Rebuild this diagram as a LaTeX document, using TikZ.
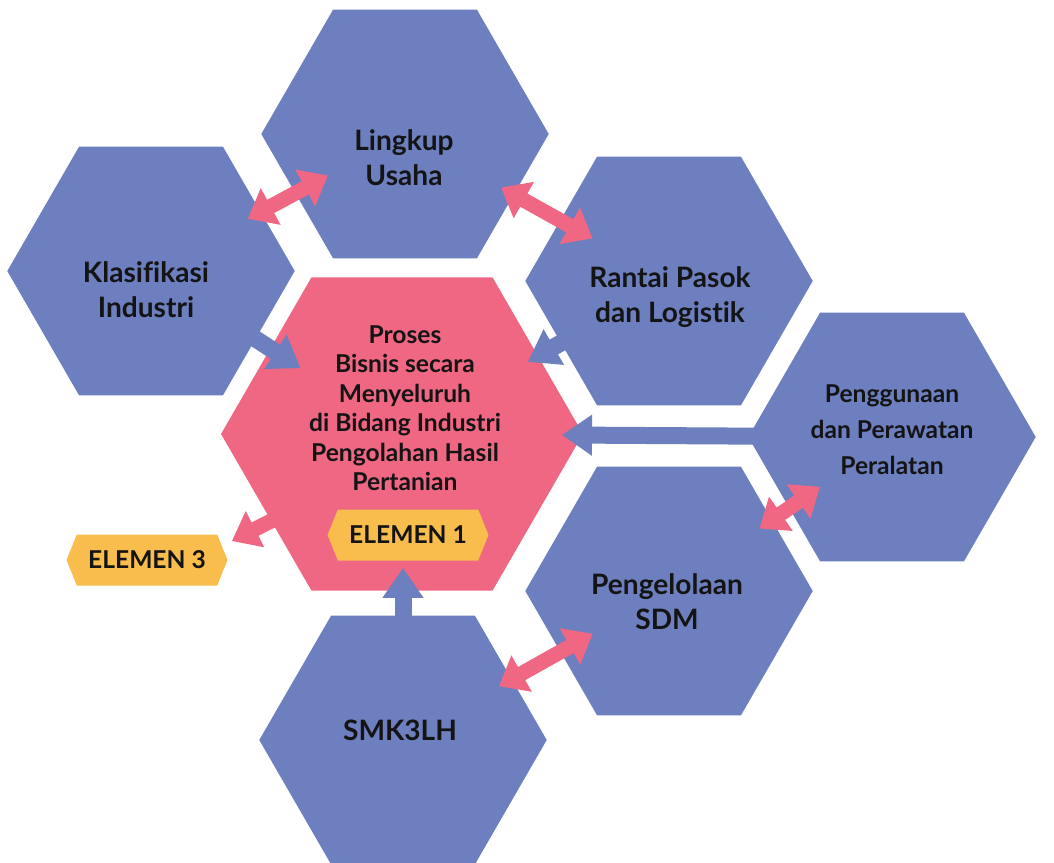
\documentclass[tikz,border=0pt]{standalone}
\usepackage{fontspec}
\setmainfont{Lato}[Ligatures=NoCommon]
\usetikzlibrary{arrows.meta, shapes.geometric, shapes.symbols}
\definecolor{hexblue}{HTML}{6D7FBF}
\definecolor{hexpink}{HTML}{EF6782}
\definecolor{elyellow}{HTML}{F8BD4D}
\definecolor{labelink}{HTML}{141414}

\begin{document}
\begin{tikzpicture}[x=0.02cm, y=-0.02cm,
    hexside/.style={regular polygon, regular polygon sides=6, minimum size=5.75cm,
                    inner sep=0pt, outer sep=0pt, fill=hexblue},
    hexcore/.style={regular polygon, regular polygon sides=6, minimum size=7.24cm,
                    inner sep=0pt, outer sep=0pt, fill=hexpink},
    hexlabel/.style={align=center, text=labelink, font=\bfseries\fontsize{16}{20}\selectfont},
    sidelabel/.style={align=center, text=labelink, font=\bfseries\fontsize{14}{20.5}\selectfont},
    corelabel/.style={align=center, text=labelink, font=\bfseries\fontsize{14}{16.8}\selectfont},
    elemtag/.style={signal, signal to=west and east, signal pointer angle=136,
                    fill=elyellow, minimum width=3.22cm, minimum height=1.02cm, inner sep=0pt,
                    text=labelink, font=\bfseries\fontsize{14}{16}\selectfont},
    biarrow/.style={{Triangle[width=0.8cm,length=0.52cm]}-{Triangle[width=0.8cm,length=0.52cm]},
                    line width=0.3cm, draw=hexpink, shorten <=2.2cm, shorten >=1.75cm},
    inarrow/.style={-{Triangle[width=0.78cm,length=0.6cm]}, line width=0.34cm, draw=hexblue},
    outarrow/.style={-{Triangle[width=0.78cm,length=0.52cm]}, line width=0.3cm, draw=hexpink}
  ]
    \useasboundingbox (0,0) rectangle (1054,862);

    % honeycomb
    \node[hexside] (lingkup) at (405,134) {};
    \node[hexside] (klas)    at (151,271) {};
    \node[hexside] (rantai)  at (669,281) {};
    \node[hexcore] (proses)  at (402,434) {};
    \node[hexside] (pengg)   at (892,437) {};
    \node[hexside] (sdm)     at (669,591) {};
    \node[hexside] (smk)     at (403,740) {};

    \node[elemtag] (el1) at (408,535) {ELEMEN 1};
    \node[elemtag] (el3) at (147,560) {ELEMEN 3};

    % links between neighbours
    \draw[biarrow] (klas.center) -- (lingkup.center);
    \draw[biarrow] (lingkup.center) -- (rantai.center);
    \draw[biarrow] (sdm.center) -- (pengg.center);
    \draw[biarrow] (smk.center) -- (sdm.center);

    % into the core
    \draw[inarrow, shorten <=2.2cm, shorten >=2.42cm] (klas.center) -- (proses.center);
    \draw[inarrow, shorten <=2cm, shorten >=2.9cm] (rantai.center) -- (proses.center);
    \draw[inarrow, shorten <=2cm, shorten >=3.2cm] (pengg.center) -- (proses.center);
    \draw[inarrow, shorten <=1.6cm, shorten >=0.14cm] (smk.center) -- (smk.center |- el1.south);
    \draw[outarrow] ([yshift=-0.4cm]proses.center) -- ([xshift=0.08cm,yshift=0.38cm]el3.east);

    % texts
    \node[hexlabel] (lingkup-t) at (404,158) {Lingkup\\Usaha};
    \node[hexlabel] (klas-t) at (146,290) {Klasifikasi\\Industri};
    \node[hexlabel] (rantai-t) at (670,297) {Rantai Pasok\\dan Logistik};
    \node[sidelabel] (pengg-t) at (892,430) {Penggunaan\\dan Perawatan\\Peralatan};
    \node[hexlabel] (sdm-t) at (667,602) {Pengelolaan\\SDM};
    \node[hexlabel] (smk-t) at (400,730) {SMK3LH};
    \node[corelabel] (proses-t) at (405,408)
      {Proses\\Bisnis secara\\Menyeluruh\\di Bidang Industri\\Pengolahan Hasil\\Pertanian};
  \end{tikzpicture}
\end{document}
